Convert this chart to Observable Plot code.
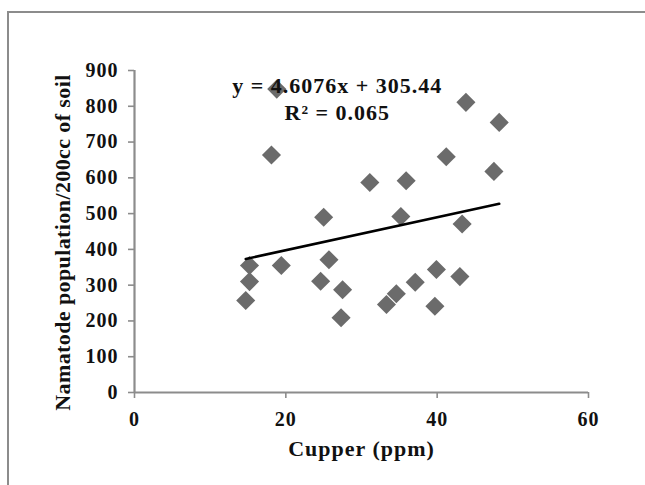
<!DOCTYPE html>
<html>
<head>
<meta charset="utf-8">
<script src="https://cdn.jsdelivr.net/npm/d3@7"></script>
<script src="https://cdn.jsdelivr.net/npm/@observablehq/plot@0.6"></script>
<style>
  html, body { margin: 0; padding: 0; background: #fff; }
  #wrap { position: relative; width: 645px; height: 485px; overflow: hidden; }
  #frame { position: absolute; left: 7px; top: 11px; width: 700px; height: 600px;
           border-top: 2px solid #8c8c8c; border-left: 2px solid #8c8c8c; pointer-events: none; }
  #chart { position: absolute; left: 0; top: 0; }
  #chart text { letter-spacing: 1px; }
  #chart text.ytitle { letter-spacing: 0.4px; }
</style>
</head>
<body>
<div id="wrap"><div id="chart"></div><div id="frame"></div></div>
<script>
// Data
const copper = [14.7, 15.2, 15.2, 19.4, 25.7, 24.6, 27.5, 27.3, 33.3, 34.6, 37.1, 39.9, 43.0,
                39.7, 43.8, 48.2, 41.2, 47.5, 35.9, 35.2, 43.3, 18.1, 31.1, 25.0, 18.8];
const nematodes = [257, 310, 355, 355, 371, 311, 287, 209, 246, 276, 308, 344, 324,
                   241, 811, 755, 659, 618, 592, 492, 471, 664, 587, 490, 848];
const xTicks = [0, 20, 40, 60];
const yTicks = [0, 100, 200, 300, 400, 500, 600, 700, 800, 900];
const slope = 4.6076;
const intercept = 305.44;
const r2 = 0.065;
const xTitle = "Cupper (ppm)";
const yTitle = "Namatode population/200cc of soil";
const eqLine1 = "y = 4.6076x + 305.44";
const eqLine2 = "R² = 0.065";

const points = copper.map((c, i) => ({x: c, y: nematodes[i]}));
const [xmin, xmax] = d3.extent(copper);
const trend = [xmin, xmax].map(x => ({x, y: slope * x + intercept}));

const axisColor = "#8c8c8c";
const chart = Plot.plot({
  width: 645,
  height: 485,
  marginLeft: 134,
  marginRight: 57,
  marginTop: 70,
  marginBottom: 93,
  style: {fontFamily: "'Liberation Serif', 'Times New Roman', serif", fontWeight: "bold", background: "transparent", color: "#000"},
  x: {domain: [0, 60]},
  y: {domain: [0, 900]},
  marks: [
    Plot.ruleX([0], {stroke: axisColor, strokeWidth: 2.2}),
    Plot.ruleY([0], {stroke: axisColor, strokeWidth: 2.2}),
    Plot.axisY({ticks: yTicks, tickSize: 6, tickPadding: 10, stroke: axisColor, strokeWidth: 1.6,
                fontSize: 20, fill: "#111", label: null}),
    Plot.axisX({ticks: xTicks, tickSize: 6, tickPadding: 13, stroke: axisColor, strokeWidth: 1.6,
                fontSize: 20, fill: "#111", label: null}),
    Plot.dot(points, {x: "x", y: "y", symbol: "diamond2", r: 8.6, fill: "#6b6b6b", stroke: "none"}),
    Plot.line(trend, {x: "x", y: "y", stroke: "#000", strokeWidth: 2.6}),
    Plot.text([eqLine1], {x: 26.8, y: 857, text: d => d, fontSize: 22, fill: "#111"}),
    Plot.text([eqLine2], {x: 26.8, y: 782, text: d => d, fontSize: 22, fill: "#111"}),
    Plot.text([xTitle], {frameAnchor: "bottom", dy: 63, text: d => d, fontSize: 22, fill: "#111"}),
    Plot.text([yTitle], {frameAnchor: "left", textAnchor: "middle", dx: -72, dy: 11, rotate: -90, text: d => d, fontSize: 22, fill: "#111"})
  ]
});
d3.select(chart).selectAll("text").filter(function() { return this.textContent === yTitle; }).classed("ytitle", true);
document.getElementById("chart").appendChild(chart);
</script>
</body>
</html>
